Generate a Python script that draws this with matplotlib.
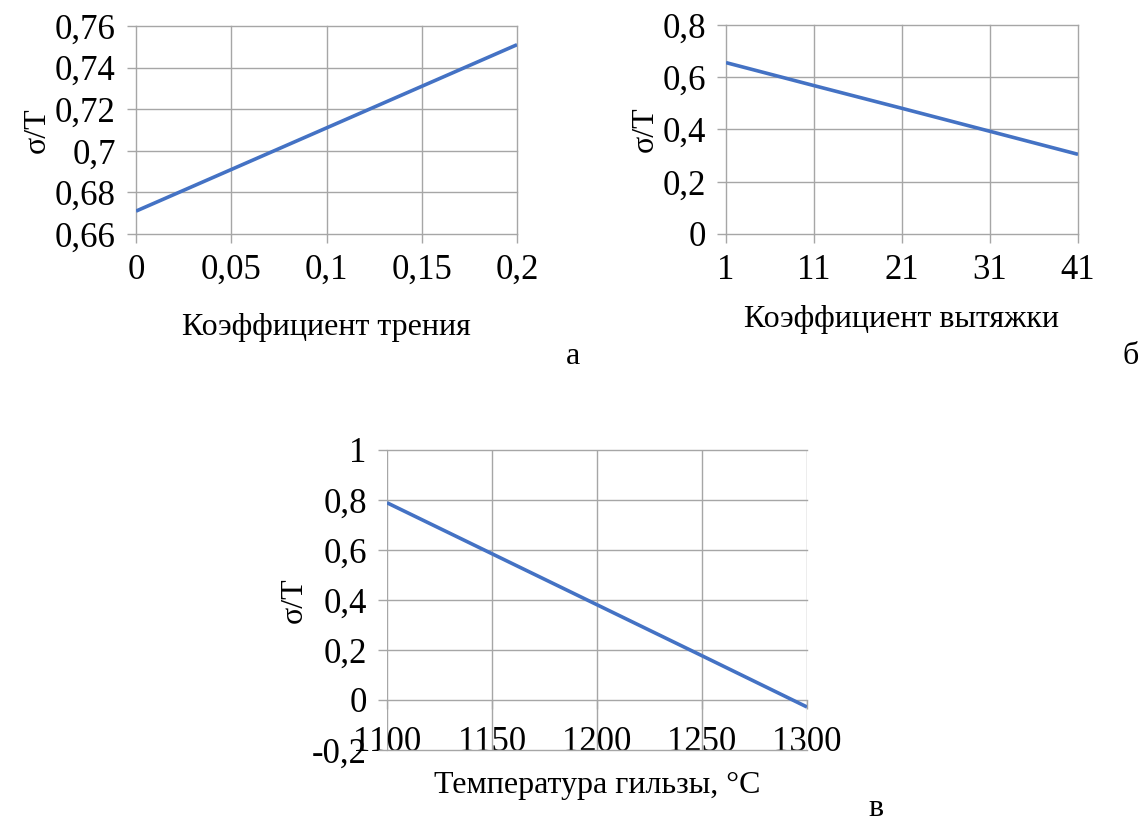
import matplotlib
matplotlib.use('Agg')
from matplotlib import pyplot as plt

plt.rcParams['font.family'] = ['Liberation Serif', 'DejaVu Serif']

# а: коэффициент трения
friction = [0, 0.05, 0.1, 0.15, 0.2]
ratio_friction = [0.671, 0.691, 0.711, 0.731, 0.751]
friction_ticks = [0, 0.05, 0.1, 0.15, 0.2]
friction_labels = ['0', '0,05', '0,1', '0,15', '0,2']
friction_yticks = [0.66, 0.68, 0.70, 0.72, 0.74, 0.76]
friction_ylabels = ['0,66', '0,68', '0,7', '0,72', '0,74', '0,76']

# б: коэффициент вытяжки
draw = [1, 11, 21, 31, 41]
ratio_draw = [0.656, 0.568, 0.481, 0.393, 0.305]
draw_labels = ['1', '11', '21', '31', '41']
draw_yticks = [0, 0.2, 0.4, 0.6, 0.8]
draw_ylabels = ['0', '0,2', '0,4', '0,6', '0,8']

# в: температура гильзы
temp = [1100, 1150, 1200, 1250, 1300]
ratio_temp = [0.789, 0.585, 0.381, 0.177, -0.028]
temp_labels = ['1100', '1150', '1200', '1250', '1300']
temp_yticks = [-0.2, 0, 0.2, 0.4, 0.6, 0.8, 1.0]
temp_ylabels = ['-0,2', '0', '0,2', '0,4', '0,6', '0,8', '1']

W, H = 1144, 823
LINE = '#4472C4'
GRID = '#a6a6a6'
FS = 25      # tick labels
FS_LAB = 23  # axis titles


def box(x0, x1, y0, y1):
    # pixel box -> figure fraction rect
    return [x0 / W, 1 - y1 / H, (x1 - x0) / W, (y1 - y0) / H]


def style(ax, x, y, xt, xl, yt, yl, xlab, xlab_y):
    ax.plot(x, y, color=LINE, lw=2.6, solid_capstyle='butt', zorder=3)
    ax.set_xlim(xt[0], xt[-1])
    ax.set_ylim(yt[0], yt[-1])
    ax.set_xticks(xt)
    ax.set_xticklabels(xl)
    ax.set_yticks(yt)
    ax.set_yticklabels(yl)
    ax.grid(True, color=GRID, lw=1)
    for g in ax.get_xgridlines() + ax.get_ygridlines():
        g.set_clip_on(False)
    for s in ax.spines.values():
        s.set_visible(False)
    ax.tick_params(length=6.5, width=1, color=GRID, labelsize=FS)
    ax.tick_params(axis='x', pad=8)
    ax.tick_params(axis='y', pad=8)
    ax.set_ylabel('σ/T', fontsize=FS_LAB, labelpad=2)
    ax.set_xlabel(xlab, fontsize=FS_LAB)
    ax.xaxis.set_label_coords(0.5, xlab_y)
    ax.xaxis.label.set_va('center')


fig = plt.figure(figsize=(W / 100, H / 100), dpi=100)

ax_a = fig.add_axes(box(136, 517, 26, 234))
style(ax_a, friction, ratio_friction, friction_ticks, friction_labels,
      friction_yticks, friction_ylabels, 'Коэффициент трения', -0.45)

ax_b = fig.add_axes(box(726, 1078, 25, 234))
style(ax_b, draw, ratio_draw, draw, draw_labels,
      draw_yticks, draw_ylabels, 'Коэффициент вытяжки', -0.41)

ax_c = fig.add_axes(box(387, 807, 450, 750))
style(ax_c, temp, ratio_temp, temp, temp_labels,
      temp_yticks, temp_ylabels, 'Температура гильзы, °С', -0.12)
# horizontal axis crosses at zero
ax_c.spines['bottom'].set_position(('data', 0))
ax_c.tick_params(axis='x', pad=12)

fig.text(573 / W, 1 - 357 / H, 'а', fontsize=FS_LAB, ha='center', va='center')
fig.text(1131 / W, 1 - 357 / H, 'б', fontsize=FS_LAB, ha='center', va='center')
fig.text(876 / W, 1 - 809 / H, 'в', fontsize=FS_LAB, ha='center', va='center')

fig.savefig('out.png', dpi=100)
